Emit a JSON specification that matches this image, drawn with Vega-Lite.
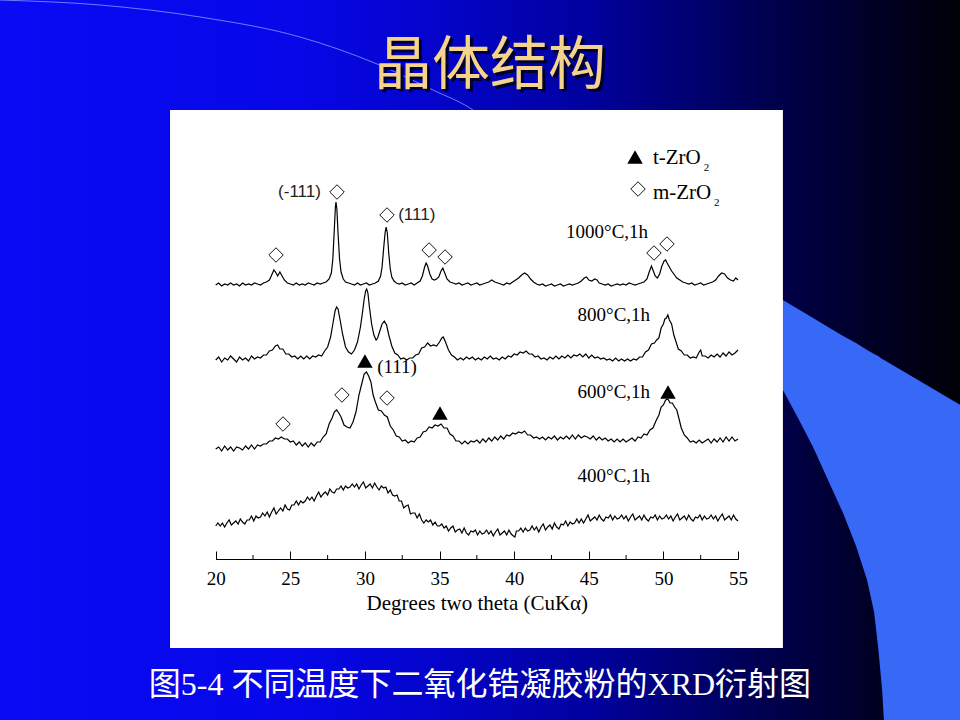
{
  "$schema": "https://vega.github.io/schema/vega-lite/v6.json",
  "width": 960,
  "height": 720,
  "padding": 0,
  "autosize": "none",
  "background": "#0404b0",
  "config": {"view": {"stroke": null}},
  "resolve": {"axis": {"x": "independent", "y": "independent"}},
  "datasets": {
    "band": [
      {"t": 57.14, "top": 267, "bot": 194},
      {"t": 58.01, "top": 259, "bot": 169},
      {"t": 59.02, "top": 250, "bot": 141},
      {"t": 60.03, "top": 241, "bot": 112},
      {"t": 61.03, "top": 232, "bot": 79},
      {"t": 62.04, "top": 223, "bot": 46},
      {"t": 62.91, "top": 216, "bot": 13},
      {"t": 63.65, "top": 209, "bot": -21},
      {"t": 64.12, "top": 205, "bot": -53},
      {"t": 64.39, "top": 203, "bot": -88},
      {"t": 64.66, "top": 200, "bot": -131},
      {"t": 64.79, "top": 199, "bot": -165},
      {"t": 69.9, "top": 154, "bot": -165}
    ],
    "arc": [
      {"t": 5.5, "i": 559},
      {"t": 12.25, "i": 554},
      {"t": 18.95, "i": 542},
      {"t": 25.65, "i": 522},
      {"t": 30.81, "i": 495},
      {"t": 34.56, "i": 469},
      {"t": 37.24, "i": 449},
      {"t": 37.71, "i": 444}
    ],
    "minor": [{"t": 22.5}, {"t": 27.5}, {"t": 32.5}, {"t": 37.5}, {"t": 42.5}, {"t": 47.5}, {"t": 52.5}],
    "diamonds": [
      {"t": 24.04, "i": 304}, {"t": 28.13, "i": 367}, {"t": 31.48, "i": 344},
      {"t": 34.3, "i": 309}, {"t": 35.37, "i": 302}, {"t": 49.37, "i": 306},
      {"t": 50.24, "i": 315}, {"t": 48.3, "i": 370}, {"t": 28.46, "i": 164},
      {"t": 31.48, "i": 161}, {"t": 24.51, "i": 135}
    ],
    "triangles": [
      {"t": 30.0, "i": 198}, {"t": 35.03, "i": 146}, {"t": 50.31, "i": 167}, {"t": 48.1, "i": 402}
    ],
    "sansLabels": [
      {"t": 24.18, "i": 367, "label": "(-111)"},
      {"t": 32.23, "i": 344, "label": "(111)"}
    ],
    "serifLabels": [
      {"t": 43.48, "i": 327, "label": "1000°C,1h"},
      {"t": 44.25, "i": 244, "label": "800°C,1h"},
      {"t": 44.25, "i": 167, "label": "600°C,1h"},
      {"t": 44.25, "i": 83, "label": "400°C,1h"},
      {"t": 30.82, "i": 192, "label": "(111)"}
    ],
    "legendLabels": [
      {"t": 49.3, "i": 401, "label": "t-ZrO"},
      {"t": 49.3, "i": 366, "label": "m-ZrO"}
    ],
    "subscripts": [
      {"t": 52.7, "i": 391, "label": "2"},
      {"t": 53.4, "i": 356, "label": "2"}
    ],
    "xrd": [
      {"s":"1000","t":20.0,"i":274},{"s":"1000","t":20.2,"i":276},{"s":"1000","t":20.4,"i":273},{"s":"1000","t":20.6,"i":275},{"s":"1000","t":20.8,"i":274},
      {"s":"1000","t":21.0,"i":276},{"s":"1000","t":21.2,"i":274},{"s":"1000","t":21.4,"i":275},{"s":"1000","t":21.6,"i":273},{"s":"1000","t":21.8,"i":276},
      {"s":"1000","t":22.0,"i":274},{"s":"1000","t":22.2,"i":275},{"s":"1000","t":22.4,"i":274},{"s":"1000","t":22.6,"i":276},{"s":"1000","t":22.8,"i":275},
      {"s":"1000","t":23.0,"i":274},{"s":"1000","t":23.2,"i":276},{"s":"1000","t":23.4,"i":277},{"s":"1000","t":23.6,"i":279},{"s":"1000","t":23.75,"i":284},
      {"s":"1000","t":23.9,"i":289},{"s":"1000","t":24.05,"i":286},{"s":"1000","t":24.15,"i":283},{"s":"1000","t":24.3,"i":287},{"s":"1000","t":24.45,"i":283},
      {"s":"1000","t":24.6,"i":279},{"s":"1000","t":24.8,"i":276},{"s":"1000","t":25.0,"i":275},{"s":"1000","t":25.2,"i":274},{"s":"1000","t":25.4,"i":276},
      {"s":"1000","t":25.6,"i":274},{"s":"1000","t":25.8,"i":275},{"s":"1000","t":26.0,"i":274},{"s":"1000","t":26.2,"i":276},{"s":"1000","t":26.4,"i":275},
      {"s":"1000","t":26.6,"i":274},{"s":"1000","t":26.8,"i":276},{"s":"1000","t":27.0,"i":275},{"s":"1000","t":27.2,"i":276},{"s":"1000","t":27.4,"i":277},
      {"s":"1000","t":27.6,"i":280},{"s":"1000","t":27.75,"i":286},{"s":"1000","t":27.85,"i":300},{"s":"1000","t":27.95,"i":330},{"s":"1000","t":28.02,"i":352},
      {"s":"1000","t":28.06,"i":357},{"s":"1000","t":28.12,"i":350},{"s":"1000","t":28.2,"i":325},{"s":"1000","t":28.3,"i":300},{"s":"1000","t":28.4,"i":287},
      {"s":"1000","t":28.55,"i":280},{"s":"1000","t":28.7,"i":277},{"s":"1000","t":28.9,"i":276},{"s":"1000","t":29.1,"i":275},{"s":"1000","t":29.3,"i":274},
      {"s":"1000","t":29.5,"i":276},{"s":"1000","t":29.7,"i":274},{"s":"1000","t":29.9,"i":275},{"s":"1000","t":30.1,"i":276},{"s":"1000","t":30.3,"i":274},
      {"s":"1000","t":30.5,"i":275},{"s":"1000","t":30.7,"i":276},{"s":"1000","t":30.9,"i":278},{"s":"1000","t":31.05,"i":283},{"s":"1000","t":31.15,"i":292},
      {"s":"1000","t":31.25,"i":310},{"s":"1000","t":31.35,"i":326},{"s":"1000","t":31.42,"i":332},{"s":"1000","t":31.5,"i":326},{"s":"1000","t":31.6,"i":305},
      {"s":"1000","t":31.7,"i":290},{"s":"1000","t":31.8,"i":282},{"s":"1000","t":31.95,"i":278},{"s":"1000","t":32.1,"i":276},{"s":"1000","t":32.3,"i":275},
      {"s":"1000","t":32.5,"i":276},{"s":"1000","t":32.7,"i":274},{"s":"1000","t":32.9,"i":275},{"s":"1000","t":33.1,"i":276},{"s":"1000","t":33.3,"i":274},
      {"s":"1000","t":33.5,"i":276},{"s":"1000","t":33.7,"i":278},{"s":"1000","t":33.85,"i":283},{"s":"1000","t":34.0,"i":292},{"s":"1000","t":34.1,"i":296},
      {"s":"1000","t":34.2,"i":293},{"s":"1000","t":34.35,"i":285},{"s":"1000","t":34.5,"i":280},{"s":"1000","t":34.65,"i":279},{"s":"1000","t":34.8,"i":280},
      {"s":"1000","t":34.95,"i":282},{"s":"1000","t":35.1,"i":288},{"s":"1000","t":35.22,"i":291},{"s":"1000","t":35.35,"i":286},{"s":"1000","t":35.5,"i":280},
      {"s":"1000","t":35.7,"i":277},{"s":"1000","t":35.9,"i":276},{"s":"1000","t":36.1,"i":275},{"s":"1000","t":36.3,"i":276},{"s":"1000","t":36.5,"i":274},
      {"s":"1000","t":36.7,"i":275},{"s":"1000","t":36.9,"i":276},{"s":"1000","t":37.1,"i":274},{"s":"1000","t":37.3,"i":275},{"s":"1000","t":37.5,"i":276},
      {"s":"1000","t":37.7,"i":274},{"s":"1000","t":37.9,"i":275},{"s":"1000","t":38.1,"i":276},{"s":"1000","t":38.3,"i":277},{"s":"1000","t":38.5,"i":279},
      {"s":"1000","t":38.7,"i":277},{"s":"1000","t":38.9,"i":276},{"s":"1000","t":39.1,"i":275},{"s":"1000","t":39.3,"i":274},{"s":"1000","t":39.5,"i":276},
      {"s":"1000","t":39.7,"i":275},{"s":"1000","t":39.9,"i":277},{"s":"1000","t":40.1,"i":279},{"s":"1000","t":40.3,"i":281},{"s":"1000","t":40.5,"i":284},
      {"s":"1000","t":40.7,"i":286},{"s":"1000","t":40.9,"i":284},{"s":"1000","t":41.1,"i":280},{"s":"1000","t":41.3,"i":277},{"s":"1000","t":41.5,"i":275},
      {"s":"1000","t":41.7,"i":274},{"s":"1000","t":41.9,"i":275},{"s":"1000","t":42.1,"i":273},{"s":"1000","t":42.3,"i":274},{"s":"1000","t":42.5,"i":275},
      {"s":"1000","t":42.7,"i":273},{"s":"1000","t":42.9,"i":274},{"s":"1000","t":43.1,"i":275},{"s":"1000","t":43.3,"i":273},{"s":"1000","t":43.5,"i":274},
      {"s":"1000","t":43.7,"i":275},{"s":"1000","t":43.9,"i":274},{"s":"1000","t":44.1,"i":275},{"s":"1000","t":44.3,"i":276},{"s":"1000","t":44.5,"i":278},
      {"s":"1000","t":44.7,"i":281},{"s":"1000","t":44.85,"i":282},{"s":"1000","t":45.0,"i":279},{"s":"1000","t":45.2,"i":278},{"s":"1000","t":45.4,"i":280},
      {"s":"1000","t":45.55,"i":279},{"s":"1000","t":45.7,"i":276},{"s":"1000","t":45.9,"i":275},{"s":"1000","t":46.1,"i":274},{"s":"1000","t":46.3,"i":275},
      {"s":"1000","t":46.5,"i":273},{"s":"1000","t":46.7,"i":274},{"s":"1000","t":46.9,"i":275},{"s":"1000","t":47.1,"i":274},{"s":"1000","t":47.3,"i":275},
      {"s":"1000","t":47.5,"i":274},{"s":"1000","t":47.7,"i":276},{"s":"1000","t":47.9,"i":275},{"s":"1000","t":48.1,"i":274},{"s":"1000","t":48.3,"i":275},
      {"s":"1000","t":48.5,"i":276},{"s":"1000","t":48.7,"i":277},{"s":"1000","t":48.9,"i":280},{"s":"1000","t":49.05,"i":287},{"s":"1000","t":49.2,"i":293},
      {"s":"1000","t":49.3,"i":289},{"s":"1000","t":49.45,"i":283},{"s":"1000","t":49.6,"i":281},{"s":"1000","t":49.75,"i":285},{"s":"1000","t":49.9,"i":293},
      {"s":"1000","t":50.05,"i":298},{"s":"1000","t":50.15,"i":299},{"s":"1000","t":50.25,"i":296},{"s":"1000","t":50.4,"i":292},{"s":"1000","t":50.55,"i":288},
      {"s":"1000","t":50.7,"i":285},{"s":"1000","t":50.9,"i":281},{"s":"1000","t":51.1,"i":279},{"s":"1000","t":51.3,"i":277},{"s":"1000","t":51.5,"i":276},
      {"s":"1000","t":51.7,"i":275},{"s":"1000","t":51.9,"i":276},{"s":"1000","t":52.1,"i":274},{"s":"1000","t":52.3,"i":275},{"s":"1000","t":52.5,"i":276},
      {"s":"1000","t":52.7,"i":274},{"s":"1000","t":52.9,"i":275},{"s":"1000","t":53.1,"i":276},{"s":"1000","t":53.3,"i":277},{"s":"1000","t":53.5,"i":279},
      {"s":"1000","t":53.7,"i":283},{"s":"1000","t":53.9,"i":286},{"s":"1000","t":54.1,"i":285},{"s":"1000","t":54.3,"i":281},{"s":"1000","t":54.5,"i":279},
      {"s":"1000","t":54.7,"i":278},{"s":"1000","t":54.85,"i":281},{"s":"1000","t":55.0,"i":279},

      {"s":"800","t":20.0,"i":199},{"s":"800","t":20.2,"i":202},{"s":"800","t":20.4,"i":197},{"s":"800","t":20.6,"i":201},{"s":"800","t":20.8,"i":199},
      {"s":"800","t":21.0,"i":203},{"s":"800","t":21.2,"i":200},{"s":"800","t":21.4,"i":197},{"s":"800","t":21.6,"i":202},{"s":"800","t":21.8,"i":199},
      {"s":"800","t":22.0,"i":201},{"s":"800","t":22.2,"i":198},{"s":"800","t":22.4,"i":203},{"s":"800","t":22.6,"i":200},{"s":"800","t":22.8,"i":202},
      {"s":"800","t":23.0,"i":201},{"s":"800","t":23.2,"i":204},{"s":"800","t":23.4,"i":204},{"s":"800","t":23.6,"i":208},{"s":"800","t":23.8,"i":209},
      {"s":"800","t":24.0,"i":213},{"s":"800","t":24.15,"i":214},{"s":"800","t":24.3,"i":210},{"s":"800","t":24.5,"i":210},{"s":"800","t":24.7,"i":205},
      {"s":"800","t":24.9,"i":205},{"s":"800","t":25.1,"i":202},{"s":"800","t":25.3,"i":203},{"s":"800","t":25.5,"i":200},{"s":"800","t":25.7,"i":203},
      {"s":"800","t":25.9,"i":200},{"s":"800","t":26.1,"i":203},{"s":"800","t":26.3,"i":200},{"s":"800","t":26.5,"i":203},{"s":"800","t":26.7,"i":202},
      {"s":"800","t":26.9,"i":204},{"s":"800","t":27.1,"i":203},{"s":"800","t":27.3,"i":208},{"s":"800","t":27.5,"i":212},{"s":"800","t":27.7,"i":222},
      {"s":"800","t":27.85,"i":235},{"s":"800","t":28.0,"i":248},{"s":"800","t":28.1,"i":252},{"s":"800","t":28.2,"i":250},{"s":"800","t":28.35,"i":238},
      {"s":"800","t":28.5,"i":225},{"s":"800","t":28.7,"i":212},{"s":"800","t":28.9,"i":207},{"s":"800","t":29.1,"i":205},{"s":"800","t":29.3,"i":209},
      {"s":"800","t":29.5,"i":217},{"s":"800","t":29.7,"i":232},{"s":"800","t":29.85,"i":248},{"s":"800","t":29.95,"i":260},{"s":"800","t":30.05,"i":268},
      {"s":"800","t":30.12,"i":270},{"s":"800","t":30.2,"i":266},{"s":"800","t":30.3,"i":252},{"s":"800","t":30.45,"i":235},{"s":"800","t":30.6,"i":224},
      {"s":"800","t":30.75,"i":219},{"s":"800","t":30.85,"i":221},{"s":"800","t":31.0,"i":228},{"s":"800","t":31.15,"i":235},{"s":"800","t":31.3,"i":238},
      {"s":"800","t":31.45,"i":234},{"s":"800","t":31.6,"i":224},{"s":"800","t":31.8,"i":213},{"s":"800","t":32.0,"i":206},{"s":"800","t":32.2,"i":204},
      {"s":"800","t":32.4,"i":200},{"s":"800","t":32.6,"i":201},{"s":"800","t":32.8,"i":199},{"s":"800","t":33.0,"i":201},{"s":"800","t":33.2,"i":201},
      {"s":"800","t":33.4,"i":204},{"s":"800","t":33.6,"i":205},{"s":"800","t":33.8,"i":211},{"s":"800","t":34.0,"i":212},{"s":"800","t":34.2,"i":216},
      {"s":"800","t":34.4,"i":213},{"s":"800","t":34.6,"i":214},{"s":"800","t":34.8,"i":213},{"s":"800","t":35.0,"i":217},{"s":"800","t":35.15,"i":221},
      {"s":"800","t":35.25,"i":222},{"s":"800","t":35.4,"i":217},{"s":"800","t":35.6,"i":209},{"s":"800","t":35.8,"i":204},{"s":"800","t":36.0,"i":202},
      {"s":"800","t":36.2,"i":199},{"s":"800","t":36.4,"i":201},{"s":"800","t":36.6,"i":199},{"s":"800","t":36.8,"i":202},{"s":"800","t":37.0,"i":200},
      {"s":"800","t":37.2,"i":202},{"s":"800","t":37.4,"i":199},{"s":"800","t":37.6,"i":201},{"s":"800","t":37.8,"i":199},{"s":"800","t":38.0,"i":202},
      {"s":"800","t":38.2,"i":200},{"s":"800","t":38.4,"i":203},{"s":"800","t":38.6,"i":200},{"s":"800","t":38.8,"i":201},{"s":"800","t":39.0,"i":199},
      {"s":"800","t":39.2,"i":202},{"s":"800","t":39.4,"i":200},{"s":"800","t":39.6,"i":203},{"s":"800","t":39.8,"i":202},{"s":"800","t":40.0,"i":205},
      {"s":"800","t":40.2,"i":204},{"s":"800","t":40.4,"i":207},{"s":"800","t":40.6,"i":206},{"s":"800","t":40.8,"i":208},{"s":"800","t":41.0,"i":205},
      {"s":"800","t":41.2,"i":205},{"s":"800","t":41.4,"i":202},{"s":"800","t":41.6,"i":203},{"s":"800","t":41.8,"i":200},{"s":"800","t":42.0,"i":201},
      {"s":"800","t":42.2,"i":199},{"s":"800","t":42.4,"i":202},{"s":"800","t":42.6,"i":200},{"s":"800","t":42.8,"i":203},{"s":"800","t":43.0,"i":200},
      {"s":"800","t":43.2,"i":203},{"s":"800","t":43.4,"i":201},{"s":"800","t":43.6,"i":204},{"s":"800","t":43.8,"i":201},{"s":"800","t":44.0,"i":204},
      {"s":"800","t":44.2,"i":203},{"s":"800","t":44.4,"i":205},{"s":"800","t":44.6,"i":202},{"s":"800","t":44.8,"i":205},{"s":"800","t":45.0,"i":201},
      {"s":"800","t":45.2,"i":204},{"s":"800","t":45.4,"i":201},{"s":"800","t":45.6,"i":202},{"s":"800","t":45.8,"i":200},{"s":"800","t":46.0,"i":201},
      {"s":"800","t":46.2,"i":199},{"s":"800","t":46.4,"i":200},{"s":"800","t":46.6,"i":198},{"s":"800","t":46.8,"i":201},{"s":"800","t":47.0,"i":198},
      {"s":"800","t":47.2,"i":200},{"s":"800","t":47.4,"i":198},{"s":"800","t":47.6,"i":200},{"s":"800","t":47.8,"i":198},{"s":"800","t":48.0,"i":200},
      {"s":"800","t":48.2,"i":199},{"s":"800","t":48.4,"i":202},{"s":"800","t":48.6,"i":202},{"s":"800","t":48.8,"i":207},{"s":"800","t":49.0,"i":209},
      {"s":"800","t":49.2,"i":215},{"s":"800","t":49.4,"i":216},{"s":"800","t":49.55,"i":219},{"s":"800","t":49.7,"i":221},{"s":"800","t":49.85,"i":231},
      {"s":"800","t":50.0,"i":235},{"s":"800","t":50.1,"i":240},{"s":"800","t":50.2,"i":241},{"s":"800","t":50.3,"i":244},{"s":"800","t":50.4,"i":239},
      {"s":"800","t":50.55,"i":235},{"s":"800","t":50.7,"i":224},{"s":"800","t":50.85,"i":217},{"s":"800","t":51.0,"i":210},{"s":"800","t":51.2,"i":208},
      {"s":"800","t":51.4,"i":204},{"s":"800","t":51.6,"i":204},{"s":"800","t":51.8,"i":201},{"s":"800","t":52.0,"i":202},{"s":"800","t":52.2,"i":201},
      {"s":"800","t":52.4,"i":207},{"s":"800","t":52.5,"i":209},{"s":"800","t":52.6,"i":203},{"s":"800","t":52.8,"i":203},{"s":"800","t":53.0,"i":201},
      {"s":"800","t":53.2,"i":204},{"s":"800","t":53.4,"i":202},{"s":"800","t":53.6,"i":205},{"s":"800","t":53.8,"i":202},{"s":"800","t":54.0,"i":206},
      {"s":"800","t":54.2,"i":203},{"s":"800","t":54.4,"i":207},{"s":"800","t":54.6,"i":204},{"s":"800","t":54.8,"i":206},{"s":"800","t":55.0,"i":209},

      {"s":"600","t":20.0,"i":110},{"s":"600","t":20.2,"i":112},{"s":"600","t":20.4,"i":108},{"s":"600","t":20.6,"i":113},{"s":"600","t":20.8,"i":109},
      {"s":"600","t":21.0,"i":112},{"s":"600","t":21.2,"i":108},{"s":"600","t":21.4,"i":112},{"s":"600","t":21.6,"i":111},{"s":"600","t":21.8,"i":109},
      {"s":"600","t":22.0,"i":113},{"s":"600","t":22.2,"i":110},{"s":"600","t":22.4,"i":114},{"s":"600","t":22.6,"i":110},{"s":"600","t":22.8,"i":114},
      {"s":"600","t":23.0,"i":113},{"s":"600","t":23.2,"i":115},{"s":"600","t":23.4,"i":115},{"s":"600","t":23.6,"i":118},{"s":"600","t":23.8,"i":118},
      {"s":"600","t":24.0,"i":121},{"s":"600","t":24.2,"i":120},{"s":"600","t":24.4,"i":122},{"s":"600","t":24.6,"i":120},{"s":"600","t":24.8,"i":120},
      {"s":"600","t":25.0,"i":117},{"s":"600","t":25.2,"i":118},{"s":"600","t":25.4,"i":114},{"s":"600","t":25.6,"i":117},{"s":"600","t":25.8,"i":113},
      {"s":"600","t":26.0,"i":116},{"s":"600","t":26.2,"i":112},{"s":"600","t":26.4,"i":116},{"s":"600","t":26.6,"i":113},{"s":"600","t":26.8,"i":117},
      {"s":"600","t":27.0,"i":117},{"s":"600","t":27.2,"i":122},{"s":"600","t":27.4,"i":125},{"s":"600","t":27.6,"i":135},{"s":"600","t":27.8,"i":141},
      {"s":"600","t":27.95,"i":147},{"s":"600","t":28.1,"i":149},{"s":"600","t":28.25,"i":146},{"s":"600","t":28.4,"i":142},{"s":"600","t":28.6,"i":134},
      {"s":"600","t":28.8,"i":132},{"s":"600","t":29.0,"i":131},{"s":"600","t":29.2,"i":137},{"s":"600","t":29.4,"i":147},{"s":"600","t":29.6,"i":164},
      {"s":"600","t":29.8,"i":176},{"s":"600","t":29.95,"i":185},{"s":"600","t":30.1,"i":187},{"s":"600","t":30.25,"i":183},{"s":"600","t":30.4,"i":177},
      {"s":"600","t":30.55,"i":164},{"s":"600","t":30.7,"i":157},{"s":"600","t":30.9,"i":149},{"s":"600","t":31.1,"i":148},{"s":"600","t":31.3,"i":144},
      {"s":"600","t":31.5,"i":142},{"s":"600","t":31.7,"i":133},{"s":"600","t":31.9,"i":129},{"s":"600","t":32.1,"i":123},{"s":"600","t":32.3,"i":122},
      {"s":"600","t":32.5,"i":118},{"s":"600","t":32.7,"i":119},{"s":"600","t":32.9,"i":116},{"s":"600","t":33.1,"i":118},{"s":"600","t":33.3,"i":117},
      {"s":"600","t":33.5,"i":121},{"s":"600","t":33.7,"i":122},{"s":"600","t":33.9,"i":127},{"s":"600","t":34.1,"i":128},{"s":"600","t":34.3,"i":132},
      {"s":"600","t":34.5,"i":131},{"s":"600","t":34.7,"i":134},{"s":"600","t":34.9,"i":133},{"s":"600","t":35.1,"i":135},{"s":"600","t":35.3,"i":131},
      {"s":"600","t":35.5,"i":131},{"s":"600","t":35.7,"i":125},{"s":"600","t":35.9,"i":123},{"s":"600","t":36.1,"i":118},{"s":"600","t":36.3,"i":118},
      {"s":"600","t":36.5,"i":115},{"s":"600","t":36.7,"i":118},{"s":"600","t":36.9,"i":115},{"s":"600","t":37.1,"i":118},{"s":"600","t":37.3,"i":117},
      {"s":"600","t":37.5,"i":119},{"s":"600","t":37.7,"i":116},{"s":"600","t":37.9,"i":120},{"s":"600","t":38.1,"i":117},{"s":"600","t":38.3,"i":121},
      {"s":"600","t":38.5,"i":118},{"s":"600","t":38.7,"i":122},{"s":"600","t":38.9,"i":119},{"s":"600","t":39.1,"i":123},{"s":"600","t":39.3,"i":120},
      {"s":"600","t":39.5,"i":124},{"s":"600","t":39.7,"i":123},{"s":"600","t":39.9,"i":126},{"s":"600","t":40.1,"i":125},{"s":"600","t":40.3,"i":127},
      {"s":"600","t":40.5,"i":126},{"s":"600","t":40.7,"i":128},{"s":"600","t":40.9,"i":124},{"s":"600","t":41.1,"i":124},{"s":"600","t":41.3,"i":121},
      {"s":"600","t":41.5,"i":122},{"s":"600","t":41.7,"i":120},{"s":"600","t":41.9,"i":122},{"s":"600","t":42.1,"i":119},{"s":"600","t":42.3,"i":122},
      {"s":"600","t":42.5,"i":120},{"s":"600","t":42.7,"i":123},{"s":"600","t":42.9,"i":119},{"s":"600","t":43.1,"i":122},{"s":"600","t":43.3,"i":120},
      {"s":"600","t":43.5,"i":123},{"s":"600","t":43.7,"i":120},{"s":"600","t":43.9,"i":124},{"s":"600","t":44.1,"i":120},{"s":"600","t":44.3,"i":124},
      {"s":"600","t":44.5,"i":121},{"s":"600","t":44.7,"i":123},{"s":"600","t":44.9,"i":122},{"s":"600","t":45.1,"i":120},{"s":"600","t":45.3,"i":123},
      {"s":"600","t":45.5,"i":119},{"s":"600","t":45.7,"i":122},{"s":"600","t":45.9,"i":119},{"s":"600","t":46.1,"i":121},{"s":"600","t":46.3,"i":118},
      {"s":"600","t":46.5,"i":120},{"s":"600","t":46.7,"i":117},{"s":"600","t":46.9,"i":120},{"s":"600","t":47.1,"i":117},{"s":"600","t":47.3,"i":120},
      {"s":"600","t":47.5,"i":117},{"s":"600","t":47.7,"i":119},{"s":"600","t":47.9,"i":121},{"s":"600","t":48.1,"i":118},{"s":"600","t":48.3,"i":122},
      {"s":"600","t":48.5,"i":121},{"s":"600","t":48.7,"i":125},{"s":"600","t":48.9,"i":124},{"s":"600","t":49.1,"i":129},{"s":"600","t":49.3,"i":131},
      {"s":"600","t":49.5,"i":138},{"s":"600","t":49.7,"i":144},{"s":"600","t":49.85,"i":152},{"s":"600","t":50.0,"i":154},{"s":"600","t":50.15,"i":159},
      {"s":"600","t":50.3,"i":160},{"s":"600","t":50.45,"i":156},{"s":"600","t":50.6,"i":156},{"s":"600","t":50.75,"i":152},{"s":"600","t":50.9,"i":149},
      {"s":"600","t":51.05,"i":140},{"s":"600","t":51.2,"i":131},{"s":"600","t":51.4,"i":124},{"s":"600","t":51.6,"i":121},{"s":"600","t":51.8,"i":117},
      {"s":"600","t":52.0,"i":118},{"s":"600","t":52.2,"i":116},{"s":"600","t":52.4,"i":119},{"s":"600","t":52.6,"i":116},{"s":"600","t":52.8,"i":118},
      {"s":"600","t":53.0,"i":120},{"s":"600","t":53.2,"i":116},{"s":"600","t":53.4,"i":120},{"s":"600","t":53.6,"i":117},{"s":"600","t":53.8,"i":121},
      {"s":"600","t":54.0,"i":117},{"s":"600","t":54.2,"i":122},{"s":"600","t":54.4,"i":118},{"s":"600","t":54.6,"i":122},{"s":"600","t":54.8,"i":118},
      {"s":"600","t":55.0,"i":120},

      {"s":"400","t":20.0,"i":33},{"s":"400","t":20.15,"i":36},{"s":"400","t":20.3,"i":33},{"s":"400","t":20.45,"i":36},{"s":"400","t":20.6,"i":32},
      {"s":"400","t":20.75,"i":36},{"s":"400","t":20.9,"i":39},{"s":"400","t":21.05,"i":34},{"s":"400","t":21.2,"i":36},{"s":"400","t":21.35,"i":38},
      {"s":"400","t":21.5,"i":35},{"s":"400","t":21.65,"i":40},{"s":"400","t":21.8,"i":37},{"s":"400","t":21.95,"i":35},{"s":"400","t":22.1,"i":39},
      {"s":"400","t":22.25,"i":39},{"s":"400","t":22.4,"i":43},{"s":"400","t":22.55,"i":38},{"s":"400","t":22.7,"i":43},{"s":"400","t":22.85,"i":41},
      {"s":"400","t":23.0,"i":42},{"s":"400","t":23.15,"i":46},{"s":"400","t":23.3,"i":43},{"s":"400","t":23.45,"i":47},{"s":"400","t":23.6,"i":42},
      {"s":"400","t":23.75,"i":47},{"s":"400","t":23.9,"i":51},{"s":"400","t":24.05,"i":45},{"s":"400","t":24.2,"i":48},{"s":"400","t":24.35,"i":51},
      {"s":"400","t":24.5,"i":48},{"s":"400","t":24.65,"i":54},{"s":"400","t":24.8,"i":50},{"s":"400","t":24.95,"i":49},{"s":"400","t":25.1,"i":54},
      {"s":"400","t":25.25,"i":54},{"s":"400","t":25.4,"i":58},{"s":"400","t":25.55,"i":54},{"s":"400","t":25.7,"i":58},{"s":"400","t":25.85,"i":56},
      {"s":"400","t":26.0,"i":58},{"s":"400","t":26.15,"i":62},{"s":"400","t":26.3,"i":59},{"s":"400","t":26.45,"i":62},{"s":"400","t":26.6,"i":58},
      {"s":"400","t":26.75,"i":63},{"s":"400","t":26.9,"i":67},{"s":"400","t":27.05,"i":62},{"s":"400","t":27.2,"i":65},{"s":"400","t":27.35,"i":67},
      {"s":"400","t":27.5,"i":64},{"s":"400","t":27.65,"i":70},{"s":"400","t":27.8,"i":67},{"s":"400","t":27.95,"i":66},{"s":"400","t":28.1,"i":70},
      {"s":"400","t":28.25,"i":70},{"s":"400","t":28.4,"i":73},{"s":"400","t":28.55,"i":69},{"s":"400","t":28.7,"i":73},{"s":"400","t":28.85,"i":71},
      {"s":"400","t":29.0,"i":72},{"s":"400","t":29.15,"i":75},{"s":"400","t":29.3,"i":72},{"s":"400","t":29.45,"i":75},{"s":"400","t":29.6,"i":70},
      {"s":"400","t":29.75,"i":74},{"s":"400","t":29.9,"i":77},{"s":"400","t":30.05,"i":71},{"s":"400","t":30.2,"i":73},{"s":"400","t":30.35,"i":75},
      {"s":"400","t":30.5,"i":71},{"s":"400","t":30.65,"i":76},{"s":"400","t":30.8,"i":72},{"s":"400","t":30.95,"i":69},{"s":"400","t":31.1,"i":73},
      {"s":"400","t":31.25,"i":71},{"s":"400","t":31.4,"i":72},{"s":"400","t":31.55,"i":66},{"s":"400","t":31.7,"i":69},{"s":"400","t":31.85,"i":64},
      {"s":"400","t":32.0,"i":63},{"s":"400","t":32.15,"i":64},{"s":"400","t":32.3,"i":58},{"s":"400","t":32.45,"i":58},{"s":"400","t":32.6,"i":51},
      {"s":"400","t":32.75,"i":53},{"s":"400","t":32.9,"i":54},{"s":"400","t":33.05,"i":45},{"s":"400","t":33.2,"i":46},{"s":"400","t":33.35,"i":46},
      {"s":"400","t":33.5,"i":41},{"s":"400","t":33.65,"i":45},{"s":"400","t":33.8,"i":39},{"s":"400","t":33.95,"i":36},{"s":"400","t":34.1,"i":39},
      {"s":"400","t":34.25,"i":37},{"s":"400","t":34.4,"i":39},{"s":"400","t":34.55,"i":34},{"s":"400","t":34.7,"i":37},{"s":"400","t":34.85,"i":33},
      {"s":"400","t":35.0,"i":33},{"s":"400","t":35.15,"i":35},{"s":"400","t":35.3,"i":31},{"s":"400","t":35.45,"i":33},{"s":"400","t":35.6,"i":28},
      {"s":"400","t":35.75,"i":31},{"s":"400","t":35.9,"i":33},{"s":"400","t":36.05,"i":27},{"s":"400","t":36.2,"i":29},{"s":"400","t":36.35,"i":30},
      {"s":"400","t":36.5,"i":26},{"s":"400","t":36.65,"i":31},{"s":"400","t":36.8,"i":26},{"s":"400","t":36.95,"i":24},{"s":"400","t":37.1,"i":28},
      {"s":"400","t":37.25,"i":27},{"s":"400","t":37.4,"i":29},{"s":"400","t":37.55,"i":24},{"s":"400","t":37.7,"i":28},{"s":"400","t":37.85,"i":25},
      {"s":"400","t":38.0,"i":26},{"s":"400","t":38.15,"i":29},{"s":"400","t":38.3,"i":25},{"s":"400","t":38.45,"i":28},{"s":"400","t":38.6,"i":23},
      {"s":"400","t":38.75,"i":27},{"s":"400","t":38.9,"i":30},{"s":"400","t":39.05,"i":24},{"s":"400","t":39.2,"i":26},{"s":"400","t":39.35,"i":28},
      {"s":"400","t":39.5,"i":24},{"s":"400","t":39.65,"i":29},{"s":"400","t":39.8,"i":25},{"s":"400","t":39.95,"i":23},{"s":"400","t":40.05,"i":22},
      {"s":"400","t":40.15,"i":28},{"s":"400","t":40.3,"i":28},{"s":"400","t":40.45,"i":31},{"s":"400","t":40.6,"i":27},{"s":"400","t":40.75,"i":31},
      {"s":"400","t":40.9,"i":28},{"s":"400","t":41.05,"i":29},{"s":"400","t":41.2,"i":33},{"s":"400","t":41.35,"i":29},{"s":"400","t":41.5,"i":32},
      {"s":"400","t":41.65,"i":27},{"s":"400","t":41.8,"i":32},{"s":"400","t":41.95,"i":35},{"s":"400","t":42.1,"i":29},{"s":"400","t":42.25,"i":32},
      {"s":"400","t":42.4,"i":34},{"s":"400","t":42.55,"i":30},{"s":"400","t":42.7,"i":36},{"s":"400","t":42.85,"i":32},{"s":"400","t":43.0,"i":30},
      {"s":"400","t":43.15,"i":35},{"s":"400","t":43.3,"i":34},{"s":"400","t":43.45,"i":38},{"s":"400","t":43.6,"i":33},{"s":"400","t":43.75,"i":37},
      {"s":"400","t":43.9,"i":35},{"s":"400","t":44.05,"i":36},{"s":"400","t":44.2,"i":40},{"s":"400","t":44.35,"i":36},{"s":"400","t":44.5,"i":40},
      {"s":"400","t":44.65,"i":36},{"s":"400","t":44.8,"i":40},{"s":"400","t":44.95,"i":44},{"s":"400","t":45.1,"i":38},{"s":"400","t":45.25,"i":40},
      {"s":"400","t":45.4,"i":42},{"s":"400","t":45.55,"i":39},{"s":"400","t":45.7,"i":44},{"s":"400","t":45.85,"i":40},{"s":"400","t":46.0,"i":38},
      {"s":"400","t":46.15,"i":42},{"s":"400","t":46.3,"i":41},{"s":"400","t":46.45,"i":44},{"s":"400","t":46.6,"i":39},{"s":"400","t":46.75,"i":43},
      {"s":"400","t":46.9,"i":40},{"s":"400","t":47.05,"i":41},{"s":"400","t":47.2,"i":44},{"s":"400","t":47.35,"i":40},{"s":"400","t":47.5,"i":43},
      {"s":"400","t":47.65,"i":38},{"s":"400","t":47.8,"i":42},{"s":"400","t":47.95,"i":45},{"s":"400","t":48.1,"i":39},{"s":"400","t":48.25,"i":41},
      {"s":"400","t":48.4,"i":43},{"s":"400","t":48.55,"i":39},{"s":"400","t":48.7,"i":44},{"s":"400","t":48.85,"i":40},{"s":"400","t":49.0,"i":38},
      {"s":"400","t":49.15,"i":42},{"s":"400","t":49.3,"i":41},{"s":"400","t":49.45,"i":44},{"s":"400","t":49.6,"i":39},{"s":"400","t":49.75,"i":43},
      {"s":"400","t":49.9,"i":40},{"s":"400","t":50.05,"i":41},{"s":"400","t":50.2,"i":44},{"s":"400","t":50.35,"i":40},{"s":"400","t":50.5,"i":43},
      {"s":"400","t":50.65,"i":38},{"s":"400","t":50.8,"i":42},{"s":"400","t":50.95,"i":45},{"s":"400","t":51.1,"i":39},{"s":"400","t":51.25,"i":41},
      {"s":"400","t":51.4,"i":43},{"s":"400","t":51.55,"i":39},{"s":"400","t":51.7,"i":44},{"s":"400","t":51.85,"i":40},{"s":"400","t":52.0,"i":38},
      {"s":"400","t":52.15,"i":42},{"s":"400","t":52.3,"i":41},{"s":"400","t":52.45,"i":44},{"s":"400","t":52.6,"i":39},{"s":"400","t":52.75,"i":43},
      {"s":"400","t":52.9,"i":40},{"s":"400","t":53.05,"i":41},{"s":"400","t":53.2,"i":44},{"s":"400","t":53.35,"i":40},{"s":"400","t":53.5,"i":43},
      {"s":"400","t":53.65,"i":38},{"s":"400","t":53.8,"i":42},{"s":"400","t":53.95,"i":45},{"s":"400","t":54.1,"i":39},{"s":"400","t":54.25,"i":41},
      {"s":"400","t":54.4,"i":43},{"s":"400","t":54.55,"i":39},{"s":"400","t":54.7,"i":44},{"s":"400","t":54.85,"i":40},{"s":"400","t":55.0,"i":38}
    ]
  },
  "layer": [
    {
      "data": {"values": [{}]},
      "mark": {
        "type": "rect",
        "color": {
          "gradient": "linear", "x1": 0, "y1": 0, "x2": 1, "y2": 0,
          "stops": [
            {"offset": 0, "color": "#0a0af4"},
            {"offset": 0.3, "color": "#0707ea"},
            {"offset": 0.45, "color": "#0404cc"},
            {"offset": 0.62, "color": "#01019c"},
            {"offset": 0.8, "color": "#00004e"},
            {"offset": 0.92, "color": "#000022"},
            {"offset": 1, "color": "#000008"}
          ]
        }
      },
      "encoding": {}
    },
    {
      "data": {"name": "band"},
      "mark": {"type": "area", "color": "#3868f6", "opacity": 1},
      "encoding": {
        "x": {"field": "t", "type": "quantitative", "axis": null,
              "scale": {"domain": [20, 55], "range": [215.7, 738], "nice": false, "zero": false}},
        "y": {"field": "top", "type": "quantitative", "axis": null,
              "scale": {"domain": [0, 559], "range": [559, 0], "nice": false, "zero": false}},
        "y2": {"field": "bot"}
      }
    },
    {
      "data": {"name": "arc"},
      "mark": {"type": "line", "color": "#7f9cff", "strokeWidth": 1, "interpolate": "monotone", "opacity": 0.8},
      "encoding": {
        "x": {"field": "t", "type": "quantitative", "axis": null},
        "y": {"field": "i", "type": "quantitative", "axis": null}
      }
    },
    {
      "data": {"values": [{}]},
      "mark": {"type": "rect", "color": "#ffffff"},
      "encoding": {
        "x": {"datum": 16.94, "type": "quantitative", "axis": null},
        "x2": {"datum": 58.01},
        "y": {"datum": 449, "type": "quantitative", "axis": null},
        "y2": {"datum": -89}
      }
    },
    {
      "data": {"name": "xrd"},
      "mark": {"type": "line", "color": "#000000", "strokeWidth": 1.2},
      "encoding": {
        "x": {
          "field": "t", "type": "quantitative",
          "scale": {"domain": [20, 55], "range": [215.7, 738], "nice": false, "zero": false},
          "axis": {
            "orient": "bottom", "offset": -161, "zindex": 1,
            "values": [20, 25, 30, 35, 40, 45, 50, 55],
            "domainColor": "#000000", "domainWidth": 1,
            "tickColor": "#000000", "tickSize": -8, "tickWidth": 1,
            "labelFont": "Liberation Serif", "labelFontSize": 19, "labelColor": "#000000",
            "labelPadding": 18, "labelFlush": false, "labelOverlap": false, "labelBound": false,
            "grid": false,
            "title": "Degrees two theta (CuKα)",
            "titleFont": "Liberation Serif", "titleFontSize": 21, "titleFontWeight": "normal",
            "titleColor": "#000000", "titlePadding": 4
          }
        },
        "y": {"field": "i", "type": "quantitative", "axis": null,
              "scale": {"domain": [0, 559], "range": [559, 0], "nice": false, "zero": false}},
        "detail": {"field": "s"}
      }
    },
    {
      "data": {"name": "minor"},
      "mark": {"type": "rule", "color": "#000000", "strokeWidth": 1},
      "encoding": {
        "x": {"field": "t", "type": "quantitative", "axis": null},
        "y": {"datum": 0, "type": "quantitative", "axis": null},
        "y2": {"datum": 4}
      }
    },
    {
      "data": {"name": "diamonds"},
      "mark": {"type": "point", "shape": "diamond", "filled": false, "stroke": "#111111", "strokeWidth": 1, "size": 210, "opacity": 1},
      "encoding": {
        "x": {"field": "t", "type": "quantitative", "axis": null},
        "y": {"field": "i", "type": "quantitative", "axis": null}
      }
    },
    {
      "data": {"name": "triangles"},
      "mark": {"type": "point", "shape": "triangle-up", "filled": true, "color": "#000000", "size": 240, "opacity": 1},
      "encoding": {
        "x": {"field": "t", "type": "quantitative", "axis": null},
        "y": {"field": "i", "type": "quantitative", "axis": null}
      }
    },
    {
      "data": {"name": "sansLabels"},
      "mark": {"type": "text", "align": "left", "baseline": "middle", "font": "Liberation Sans", "fontSize": 17, "color": "#222222"},
      "encoding": {
        "x": {"field": "t", "type": "quantitative", "axis": null},
        "y": {"field": "i", "type": "quantitative", "axis": null},
        "text": {"field": "label"}
      }
    },
    {
      "data": {"name": "serifLabels"},
      "mark": {"type": "text", "align": "left", "baseline": "middle", "font": "Liberation Serif", "fontSize": 19, "color": "#000000"},
      "encoding": {
        "x": {"field": "t", "type": "quantitative", "axis": null},
        "y": {"field": "i", "type": "quantitative", "axis": null},
        "text": {"field": "label"}
      }
    },
    {
      "data": {"name": "legendLabels"},
      "mark": {"type": "text", "align": "left", "baseline": "middle", "font": "Liberation Serif", "fontSize": 21, "color": "#000000"},
      "encoding": {
        "x": {"field": "t", "type": "quantitative", "axis": null},
        "y": {"field": "i", "type": "quantitative", "axis": null},
        "text": {"field": "label"}
      }
    },
    {
      "data": {"name": "subscripts"},
      "mark": {"type": "text", "align": "left", "baseline": "middle", "font": "Liberation Serif", "fontSize": 11, "color": "#000000"},
      "encoding": {
        "x": {"field": "t", "type": "quantitative", "axis": null},
        "y": {"field": "i", "type": "quantitative", "axis": null},
        "text": {"field": "label"}
      }
    },
    {
      "data": {"values": [{}]},
      "mark": {"type": "text", "align": "center", "baseline": "middle", "font": "Noto Sans CJK SC", "fontSize": 58, "color": "#00002a", "dx": 3, "dy": 3},
      "encoding": {
        "x": {"datum": 38.38, "type": "quantitative", "axis": null},
        "y": {"datum": 492, "type": "quantitative", "axis": null},
        "text": {"value": "晶体结构"}
      }
    },
    {
      "data": {"values": [{}]},
      "mark": {"type": "text", "align": "center", "baseline": "middle", "font": "Noto Sans CJK SC", "fontSize": 58, "color": "#f5d38a"},
      "encoding": {
        "x": {"datum": 38.38, "type": "quantitative", "axis": null},
        "y": {"datum": 492, "type": "quantitative", "axis": null},
        "text": {"value": "晶体结构"}
      }
    },
    {
      "data": {"values": [{}]},
      "mark": {"type": "text", "align": "center", "baseline": "middle", "font": "Liberation Serif, Noto Sans CJK SC", "fontSize": 32, "color": "#ffffff"},
      "encoding": {
        "x": {"datum": 37.71, "type": "quantitative", "axis": null},
        "y": {"datum": -126, "type": "quantitative", "axis": null},
        "text": {"value": "图5-4 不同温度下二氧化锆凝胶粉的XRD衍射图"}
      }
    }
  ]
}
